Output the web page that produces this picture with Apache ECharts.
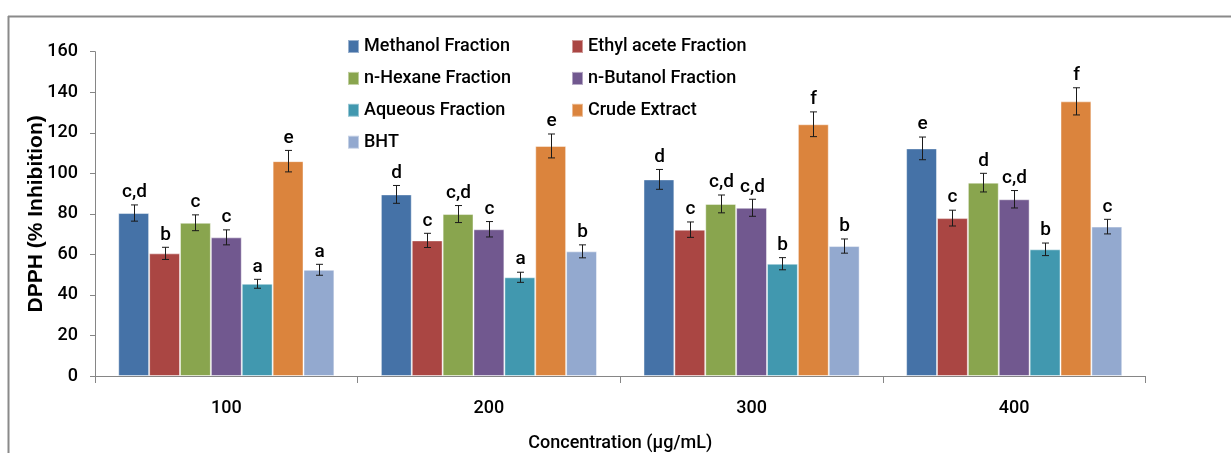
<!DOCTYPE html>
<html>
<head>
<meta charset="utf-8">
<script src="https://cdn.jsdelivr.net/npm/echarts@6/dist/echarts.min.js"></script>
<style>
html,body{margin:0;padding:0;background:#fff;}
#c{width:1231px;height:453px;}
</style>
</head>
<body>
<div id="c"></div>
<script>
const categories = ['100', '200', '300', '400'];
const seriesNames = ['Methanol Fraction', 'Ethyl acete Fraction', 'n-Hexane Fraction', 'n-Butanol Fraction', 'Aqueous Fraction', 'Crude Extract', 'BHT'];

const methanol = [80.4, 89.6, 97.0, 112.3];
const ethyl = [60.5, 66.9, 72.2, 77.9];
const hexane = [75.6, 79.9, 84.9, 95.4];
const butanol = [68.4, 72.4, 83.0, 87.2];
const aqueous = [45.5, 48.7, 55.4, 62.5];
const crude = [106.0, 113.5, 124.2, 135.5];
const bht = [52.4, 61.5, 64.1, 73.7];

const methanolErr = [4.0, 4.4, 4.9, 5.6];
const ethylErr = [3.0, 3.5, 3.8, 3.9];
const hexaneErr = [3.9, 4.2, 4.4, 4.6];
const butanolErr = [3.7, 3.8, 4.2, 4.3];
const aqueousErr = [2.2, 2.5, 3.0, 3.1];
const crudeErr = [5.3, 5.9, 6.1, 6.7];
const bhtErr = [2.7, 3.2, 3.5, 3.6];

const methanolLetters = ['c,d', 'd', 'd', 'e'];
const ethylLetters = ['b', 'c', 'c', 'c'];
const hexaneLetters = ['c', 'c,d', 'c,d', 'd'];
const butanolLetters = ['c', 'c', 'c,d', 'c,d'];
const aqueousLetters = ['a', 'a', 'b', 'b'];
const crudeLetters = ['e', 'e', 'f', 'f'];
const bhtLetters = ['a', 'b', 'b', 'c'];

const yTicks = [0, 20, 40, 60, 80, 100, 120, 140, 160];

const colors = ['#4572A7', '#AA4643', '#89A54E', '#71588F', '#4198AF', '#DB843D', '#93A9CF'];
const values = [methanol, ethyl, hexane, butanol, aqueous, crude, bht];
const errs = [methanolErr, ethylErr, hexaneErr, butanolErr, aqueousErr, crudeErr, bhtErr];
const letters = [methanolLetters, ethylLetters, hexaneLetters, butanolLetters, aqueousLetters, crudeLetters, bhtLetters];

const FONT = 'Roboto, "Liberation Sans", sans-serif';
const GAP = 0.177;
const NS = seriesNames.length;

const errData = [];
const errLetters = [];
values.forEach((arr, si) => {
  arr.forEach((v, ci) => {
    errData.push([ci, v, errs[si][ci], si]);
    errLetters.push(letters[si][ci]);
  });
});

const barSeries = seriesNames.map((name, si) => ({
  name: name,
  type: 'bar',
  data: values[si],
  barGap: '0%',
  barCategoryGap: (GAP * 100) + '%',
  itemStyle: { color: colors[si], borderColor: 'rgba(255,255,255,0.45)', borderWidth: 1 },
  emphasis: { disabled: true },
  animation: false
}));

const errSeries = {
  type: 'custom',
  data: errData,
  z: 10,
  animation: false,
  renderItem: function (params, api) {
    const ci = api.value(0), v = api.value(1), e = api.value(2), si = api.value(3);
    const base = api.coord([ci, 0]);
    const band = api.size([1, 0])[0];
    const total = band * (1 - GAP);
    const bw = total / NS;
    const x = Math.round(base[0] - total / 2 + bw * (si + 0.5)) + 0.5;
    const yTop = api.coord([ci, v + e])[1];
    const yBot = api.coord([ci, v - e])[1];
    const cap = 3.5;
    const st = { stroke: '#1a1a1a', lineWidth: 1 };
    return {
      type: 'group',
      children: [
        { type: 'line', shape: { x1: x, y1: yTop, x2: x, y2: yBot }, style: st },
        { type: 'line', shape: { x1: x - cap, y1: yTop, x2: x + cap, y2: yTop }, style: st },
        { type: 'line', shape: { x1: x - cap, y1: yBot, x2: x + cap, y2: yBot }, style: st },
        { type: 'text', style: { text: errLetters[params.dataIndex], x: x, y: yTop - 3, align: 'center', verticalAlign: 'bottom', fill: '#000', font: '500 19px ' + FONT } }
      ]
    };
  }
};

const chart = echarts.init(document.getElementById('c'), null, { renderer: 'canvas' });
const legendCommon = {
  orient: 'vertical',
  itemWidth: 11,
  itemHeight: 13,
  itemGap: 11.9,
  selectedMode: false,
  icon: 'rect',
  textStyle: { fontFamily: FONT, fontSize: 18, fontWeight: 500, color: '#000', lineHeight: 20, padding: [0, 0, 0, 0] },
  padding: 0
};
chart.setOption({
  animation: false,
  color: colors,
  graphic: [
    { type: 'line', shape: { x1: 8, y1: 16.5, x2: 1231, y2: 16.5 }, style: { stroke: '#8a8a8a', lineWidth: 2 } },
    { type: 'line', shape: { x1: 8.5, y1: 16, x2: 8.5, y2: 453 }, style: { stroke: '#8a8a8a', lineWidth: 2 } }
  ],
  legend: [
    Object.assign({}, legendCommon, { left: 347, top: 36.5, data: [seriesNames[0], seriesNames[2], seriesNames[4], seriesNames[6]] }),
    Object.assign({}, legendCommon, { left: 571, top: 36.5, data: [seriesNames[1], seriesNames[3], seriesNames[5]] })
  ],
  grid: { left: 95, right: 85.5, top: 51.7, bottom: 77, outerBoundsMode: 'none', containLabel: false },
  xAxis: {
    type: 'category',
    data: categories,
    name: 'Concentration (µg/mL)',
    nameLocation: 'middle',
    nameGap: 58,
    nameMoveOverlap: false,
    nameTextStyle: { fontFamily: FONT, fontSize: 18, fontWeight: 500, color: '#000' },
    axisLine: { lineStyle: { color: '#868686', width: 1 } },
    axisTick: { show: true, length: 7, lineStyle: { color: '#868686' } },
    axisLabel: { fontFamily: FONT, fontSize: 18, fontWeight: 500, color: '#000', margin: 23 },
    splitLine: { show: false }
  },
  yAxis: {
    type: 'value',
    min: yTicks[0],
    max: yTicks[yTicks.length - 1],
    interval: yTicks[1] - yTicks[0],
    name: 'DPPH (% Inhibition)',
    nameLocation: 'middle',
    nameGap: 48,
    nameMoveOverlap: false,
    nameTextStyle: { fontFamily: '"Liberation Sans", sans-serif', fontSize: 21, fontWeight: 'bold', color: '#000' },
    axisLine: { show: true, lineStyle: { color: '#868686', width: 1 } },
    axisTick: { show: true, length: 5, lineStyle: { color: '#868686' } },
    axisLabel: { fontFamily: FONT, fontSize: 18, fontWeight: 500, color: '#000', margin: 17 },
    splitLine: { show: false }
  },
  series: barSeries.concat([errSeries])
});
</script>
</body>
</html>
